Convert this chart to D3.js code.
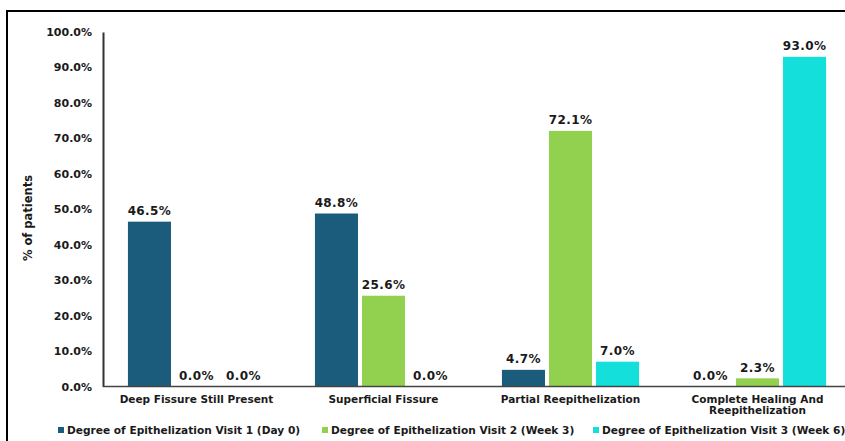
<!DOCTYPE html>
<html><head><meta charset="utf-8">
<script src="https://cdn.jsdelivr.net/npm/d3@7"></script>
<style>body{margin:0;background:#fff;}svg{display:block;}text{font-family:"DejaVu Sans",Verdana,sans-serif;font-weight:bold;fill:#1a1a1a;}</style>
</head><body>
<svg id="c" width="845" height="441"></svg>
<script>
const categories = ["Deep Fissure Still Present", "Superficial Fissure", "Partial Reepithelization", "Complete Healing And Reepithelization"];
const seriesNames = ["Degree of Epithelization Visit 1 (Day 0)", "Degree of Epithelization Visit 2 (Week 3)", "Degree of Epithelization Visit 3 (Week 6)"];
const visit1 = [46.5, 48.8, 4.7, 0.0];
const visit2 = [0.0, 25.6, 72.1, 2.3];
const visit3 = [0.0, 0.0, 7.0, 93.0];
const yTicks = [0, 10, 20, 30, 40, 50, 60, 70, 80, 90, 100];
const colors = ["#1b5b7b", "#92d050", "#14dfdb"];

const series = [visit1, visit2, visit3];
const svg = d3.select("#c");
// outer border
svg.append("rect").attr("x", 7).attr("y", 11).attr("width", 860).attr("height", 460)
  .attr("fill", "none").attr("stroke", "#000").attr("stroke-width", 2);

const pLeft = 103, pRight = 851, pTop = 32, pBottom = 386.5;
const x0 = d3.scaleBand().domain(categories).range([pLeft, pRight]).paddingInner(0).paddingOuter(0);
const x1 = d3.scaleBand().domain([0,1,2]).range([0, x0.bandwidth()]).paddingInner(0.085).paddingOuter(0.53);
const y = d3.scaleLinear().domain([0, 100]).range([pBottom, pTop]);

// y axis
const ya = svg.append("g").attr("transform", `translate(${pLeft},0)`)
  .call(d3.axisLeft(y).tickValues(yTicks).tickSize(0).tickPadding(11).tickFormat(d => d.toFixed(1) + "%"));
ya.select(".domain").attr("stroke", "#333").attr("stroke-width", 2);
ya.selectAll("text").style("font-size", "11px").style("font-family", "DejaVu Sans").style("font-weight", "bold").attr("fill", "#1a1a1a");

// bars
categories.forEach((c, ci) => {
  series.forEach((s, si) => {
    const v = s[ci];
    const bx = x0(c) + x1(si);
    svg.append("rect").attr("x", bx).attr("y", y(v)).attr("width", x1.bandwidth())
      .attr("height", pBottom - y(v)).attr("fill", colors[si]);
    svg.append("text").attr("x", bx + x1.bandwidth()/2).attr("y", y(v) - 6.5)
      .attr("text-anchor", "middle").style("font-size", "12px").style("letter-spacing", "0.4px").text(v.toFixed(1) + "%");
  });
});

// x axis line
svg.append("line").attr("x1", pLeft).attr("x2", pRight).attr("y1", pBottom).attr("y2", pBottom)
  .attr("stroke", "#444").attr("stroke-width", 1.5);

// category labels
const catLines = [["Deep Fissure Still Present"], ["Superficial Fissure"], ["Partial Reepithelization"], ["Complete Healing And", "Reepithelization"]];
categories.forEach((c, ci) => {
  const t = svg.append("text").attr("x", x0(c) + x0.bandwidth()/2).attr("y", 403)
    .attr("text-anchor", "middle").style("font-size", "10.5px");
  catLines[ci].forEach((l, li) => t.append("tspan").attr("x", x0(c) + x0.bandwidth()/2).attr("dy", li ? 10.5 : 0).text(l));
});

// y label
svg.append("text").attr("transform", "translate(32,218) rotate(-90)").attr("text-anchor", "middle")
  .style("font-size", "11.5px").text("% of patients");

// legend
const legX = [58, 322, 593];
seriesNames.forEach((n, i) => {
  svg.append("rect").attr("x", legX[i]).attr("y", 427).attr("width", 6).attr("height", 6).attr("fill", colors[i]);
  svg.append("text").attr("x", legX[i] + 9).attr("y", 434).style("font-size", "10.6px").text(n);
});
</script>
</body></html>
